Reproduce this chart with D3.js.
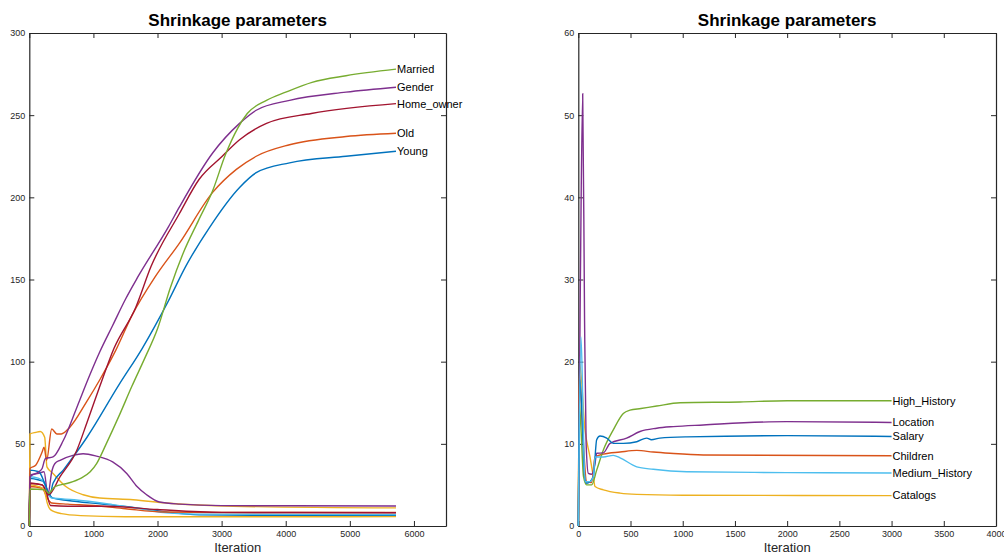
<!DOCTYPE html>
<html>
  <head>
    <meta charset="utf-8">
    <title>Shrinkage parameters</title>
    <script src="https://d3js.org/d3.v7.min.js"></script>
    <style>
      body { margin: 0; background: #fff; }
      svg { font-family: "Liberation Sans", Arial, Helvetica, sans-serif; }
      .axis text { font-size: 9px; fill: #262626; }
      .axis path, .axis line { stroke: #262626; }
      .title { font-size: 17px; font-weight: bold; fill: #000; }
      .xlabel { font-size: 13px; fill: #262626; }
      .lbl { font-size: 11px; fill: #000; }
    </style>
  </head>
  <body>
    <div id="chart"></div>
    <script>
      // ---- left panel data: [iteration, value] ----
      var married   = [[0,0],[10,22.5],[250,22],[300,20],[400,24],[600,26],[800,29],[950,33],[1050,38],[1200,50],[1400,67],[1600,85],[1800,102],[2000,120],[2200,145],[2400,166],[2640,186],[2860,204],[3060,226],[3250,242],[3400,251],[3700,259],[4000,264],[4410,270],[4940,274],[5720,278]];
      var gender    = [[0,0],[10,30],[150,33],[200,35],[250,41],[370,42],[530,52],[740,72],[945,92],[1100,106],[1300,122],[1500,138],[1700,152],[2170,182],[2340,194],[2860,227],[3280,245],[3540,253],[4060,259],[4940,264],[5720,267]];
      var homeOwner = [[0,0],[10,26],[200,25],[300,19],[480,30],[740,46],[900,63],[1100,85],[1320,108],[1660,133],[1900,158],[2340,190],[2650,211],[3010,225],[3280,235],[3700,245],[4400,251],[5720,257]];
      var old       = [[0,0],[10,35],[100,37],[200,45],[230,48],[270,40],[350,59],[430,56],[500,56],[630,60],[900,76],[1100,89],[1350,107],[1600,128],[1970,152],[2340,172],[2860,203],[3230,217],[3540,225],[4060,232],[4940,237],[5720,239]];
      var young     = [[0,0],[10,34],[150,33],[250,25],[320,19],[370,26],[530,34],[900,54],[1400,86],[1760,108],[2170,137],[2440,158],[2800,181],[3280,206],[3540,215],[4060,221],[4940,225],[5720,228]];
      var purpleHump = [[0,0],[10,31],[150,32],[230,33],[290,19],[350,33],[400,38],[480,40],[680,43],[840,44],[1050,42.5],[1300,39],[1520,32],[1680,24],[1830,19],[2030,14.6],[2350,13.3],[3000,12.4],[5720,12.2]];
      var yellowHigh = [[0,0],[10,56],[100,57],[170,57.5],[240,54],[275,36],[370,32],[570,24],[840,19],[1100,17],[1620,16],[2140,14],[3180,12],[5720,11]];
      var yellowLow  = [[0,0],[10,25],[150,24],[230,22],[280,14],[330,10],[500,7.5],[800,6.3],[1500,5.6],[2500,5.6],[5720,5.7]];
      var redLow     = [[0,0],[10,26],[200,25],[270,20],[330,12.5],[600,12],[1200,12],[2000,10],[3000,8.3],[5720,8.1]];
      var orangeLow  = [[0,0],[10,24],[200,23],[280,17],[350,14],[600,13.3],[1000,12.5],[1500,10.5],[2100,8.5],[3000,8.2],[5720,8.2]];
      var blueLow    = [[0,0],[10,29],[150,28],[220,27],[300,20],[370,17],[600,15.5],[1100,13.5],[1600,11.5],[2140,8.5],[2650,6.8],[3500,6.5],[5720,6.5]];
      var lightBlueLow = [[0,0],[10,30],[150,29],[220,27],[300,19],[350,17],[700,16],[1300,13],[1800,10],[2140,8],[2650,7.2],[5720,7]];

      var leftLabels = ["Married", "Gender", "Home_owner", "Old", "Young"];

      // ---- right panel data ----
      var highHistory = [[0,0],[10,15],[25,12],[50,6],[80,5],[128,5],[176,6.8],[240,9.25],[335,11.7],[431,13.7],[495,14.1],[600,14.3],[751,14.6],[974,15],[1549,15.1],[2000,15.25],[3000,15.25]];
      var location_   = [[0,0],[20,30],[42,52.6],[60,25],[75,10],[96,6.4],[128,6.3],[160,7.6],[176,8.85],[240,8.9],[304,10.06],[463,10.7],[591,11.5],[751,11.9],[910,12.1],[1197,12.3],[1995,12.7],[3000,12.6]];
      var salary      = [[0,0],[15,17.8],[40,12],[60,6],[80,5.2],[144,6],[176,10.5],[208,10.95],[272,10.7],[335,10.06],[431,10.06],[560,10.26],[655,10.7],[700,10.5],[780,10.7],[1038,10.85],[2000,11.0],[3000,10.9]];
      var children    = [[0,0],[10,18.6],[40,12],[80,5.4],[128,5.3],[160,8.4],[240,8.75],[400,9.0],[560,9.2],[718,9.0],[878,8.85],[1197,8.65],[3000,8.55]];
      var mediumHistory = [[0,0],[26,23],[45,14],[64,5.4],[110,5.4],[144,6.0],[160,8.4],[240,8.4],[335,8.6],[400,8.3],[560,7.2],[718,6.9],[1038,6.6],[2000,6.5],[3000,6.45]];
      var catalogs    = [[0,0],[12,19.8],[64,11.7],[112,8.4],[144,6.0],[160,4.8],[240,4.4],[400,4.0],[560,3.85],[1000,3.75],[3000,3.7]];

      var rightLabels = ["High_History", "Location", "Salary", "Children", "Medium_History", "Catalogs"];

      var leftXTicks = [0, 1000, 2000, 3000, 4000, 5000, 6000];
      var leftYTicks = [0, 50, 100, 150, 200, 250, 300];
      var rightXTicks = [0, 500, 1000, 1500, 2000, 2500, 3000, 3500, 4000];
      var rightYTicks = [0, 10, 20, 30, 40, 50, 60];

      // matlab default colours
      var C = {blue: "#0072BD", orange: "#D95319", yellow: "#EDB120", purple: "#7E2F8E",
               green: "#77AC30", lightblue: "#4DBEEE", red: "#A2142F"};

      var svg = d3.select("#chart").append("svg")
        .attr("width", 1004)
        .attr("height", 555);

      var fmt = d3.format("d");

      function panel(opts) {
        var x = d3.scaleLinear().domain(opts.xdom).range([opts.left, opts.right]);
        var y = d3.scaleLinear().domain(opts.ydom).range([526, 33]);
        var g = svg.append("g");

        g.append("g").attr("class", "axis")
          .attr("transform", "translate(0,526)")
          .call(d3.axisBottom(x).tickValues(opts.xticks).tickFormat(fmt).tickSize(-5).tickSizeOuter(0).tickPadding(5));
        g.append("g").attr("class", "axis")
          .attr("transform", "translate(0,33)")
          .call(d3.axisTop(x).tickValues(opts.xticks).tickSize(-5).tickSizeOuter(0).tickFormat(""));
        g.append("g").attr("class", "axis")
          .attr("transform", "translate(" + opts.left + ",0)")
          .call(d3.axisLeft(y).tickValues(opts.yticks).tickFormat(fmt).tickSize(-5).tickSizeOuter(0).tickPadding(4));
        g.append("g").attr("class", "axis")
          .attr("transform", "translate(" + opts.right + ",0)")
          .call(d3.axisRight(y).tickValues(opts.yticks).tickSize(-5).tickSizeOuter(0).tickFormat(""));
        g.selectAll(".axis .domain").attr("stroke-width", 1.2);

        var line = d3.line()
          .x(function(d) { return x(d[0]); })
          .y(function(d) { return y(d[1]); })
          .curve(d3.curveMonotoneX);

        opts.series.forEach(function(s) {
          g.append("path")
            .attr("d", line(s.data))
            .attr("fill", "none")
            .attr("stroke", s.color)
            .attr("stroke-width", 1.4);
        });

        opts.series.filter(function(s) { return s.label; }).forEach(function(s) {
          var last = s.data[s.data.length - 1];
          g.append("text").attr("class", "lbl")
            .attr("x", x(last[0]) + 1)
            .attr("y", y(last[1]))
            .attr("dy", "0.35em")
            .text(s.label);
        });

        g.append("text").attr("class", "title")
          .attr("x", (opts.left + opts.right) / 2)
          .attr("y", 26)
          .attr("text-anchor", "middle")
          .text("Shrinkage parameters");
        g.append("text").attr("class", "xlabel")
          .attr("x", (opts.left + opts.right) / 2)
          .attr("y", 552)
          .attr("text-anchor", "middle")
          .text("Iteration");
      }

      panel({
        left: 29.3, right: 446, xdom: [0, 6500], ydom: [0, 300],
        xticks: leftXTicks, yticks: leftYTicks,
        series: [
          {data: blueLow, color: C.blue},
          {data: lightBlueLow, color: C.lightblue},
          {data: orangeLow, color: C.orange},
          {data: redLow, color: C.red},
          {data: yellowLow, color: C.yellow},
          {data: yellowHigh, color: C.yellow},
          {data: purpleHump, color: C.purple},
          {data: young, color: C.blue, label: leftLabels[4]},
          {data: old, color: C.orange, label: leftLabels[3]},
          {data: homeOwner, color: C.red, label: leftLabels[2]},
          {data: gender, color: C.purple, label: leftLabels[1]},
          {data: married, color: C.green, label: leftLabels[0]}
        ]
      });

      panel({
        left: 578.3, right: 996, xdom: [0, 4000], ydom: [0, 60],
        xticks: rightXTicks, yticks: rightYTicks,
        series: [
          {data: catalogs, color: C.yellow, label: rightLabels[5]},
          {data: children, color: C.orange, label: rightLabels[3]},
          {data: highHistory, color: C.green, label: rightLabels[0]},
          {data: location_, color: C.purple, label: rightLabels[1]},
          {data: salary, color: C.blue, label: rightLabels[2]},
          {data: mediumHistory, color: C.lightblue, label: rightLabels[4]}
        ]
      });
    </script>
  </body>
</html>
